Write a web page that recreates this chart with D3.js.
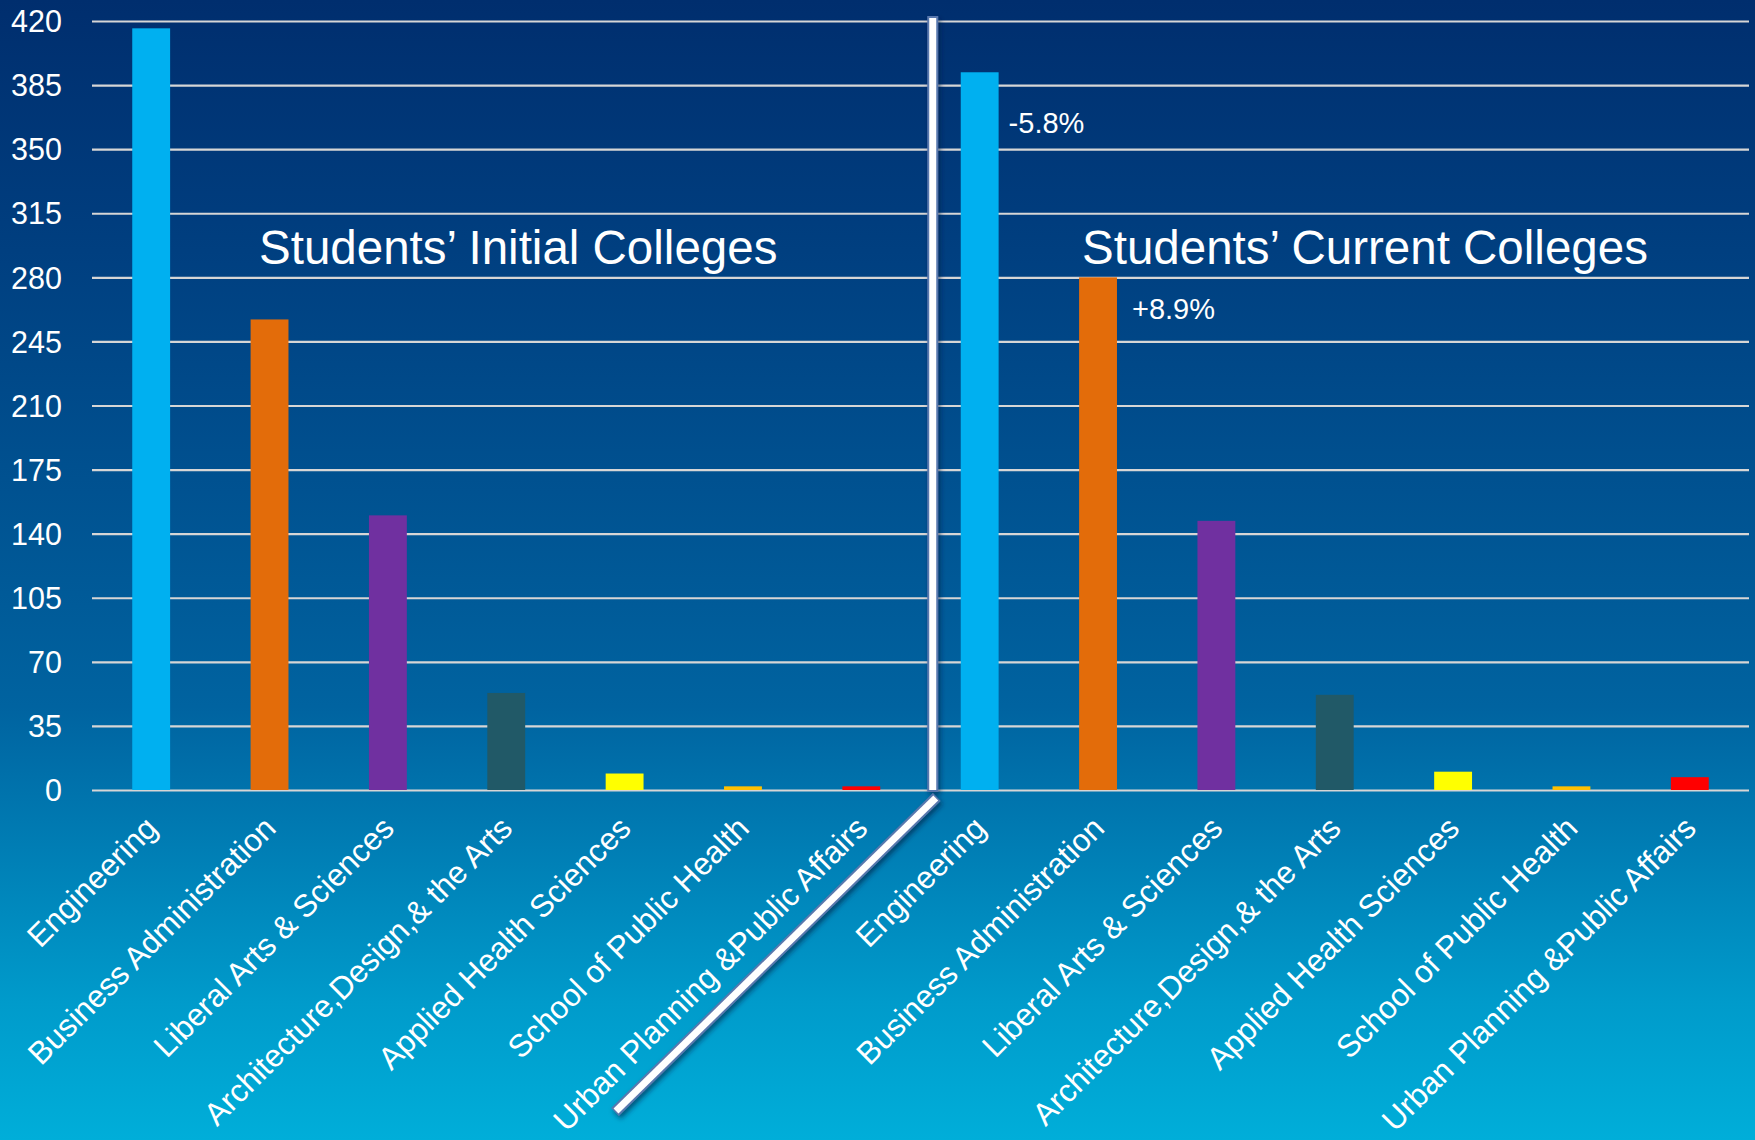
<!DOCTYPE html>
<html>
<head>
<meta charset="utf-8">
<script src="https://cdn.jsdelivr.net/npm/d3@7"></script>
<style>
  html, body { margin: 0; padding: 0; background: #003070; }
  svg { display: block; }
  text { font-family: "Liberation Sans", Arial, sans-serif; fill: #ffffff; }
</style>
</head>
<body>
<svg id="chart" width="1755" height="1140"></svg>
<script>
// ---- data ----
const colleges = ["Engineering", "Business Administration", "Liberal Arts & Sciences",
  "Architecture,Design,& the Arts", "Applied Health Sciences", "School of Public Health",
  "Urban Planning &Public Affairs"];
const initialCounts = [416, 257, 150, 53, 9, 2, 2];
const currentCounts = [392, 280, 147, 52, 10, 2, 7];
const collegeColors = ["#00B0F0", "#E36C0A", "#7030A0", "#215967", "#FFFF00", "#FFC000", "#FF0000"];
const yTicks = [0, 35, 70, 105, 140, 175, 210, 245, 280, 315, 350, 385, 420];
const panelTitles = ["Students\u2019 Initial Colleges", "Students\u2019 Current Colleges"];
const changeTexts = ["-5.8%", "+8.9%"];
const changeColleges = [0, 1]; // index into current-college bars

// ---- layout ----
const W = 1755, H = 1140;
const mLeft = 92, mRight = 1749, mTop = 21, mBottom = 790;
const changeOffsets = [{ dx: 10, dy: 61 }, { dx: 15, dy: 42 }];
const titlePos = [{ x: 259, y: 264 }, { x: 1082, y: 264 }];

const svg = d3.select("#chart");
const defs = svg.append("defs");
const grad = defs.append("linearGradient").attr("id", "bg").attr("x1", 0).attr("y1", 0).attr("x2", 0).attr("y2", 1);
[[0, "#002e6e"], [0.22, "#003f80"], [0.62, "#0063a0"], [0.88, "#009bcb"], [1, "#00aed9"]]
  .forEach(([o, c]) => grad.append("stop").attr("offset", o).attr("stop-color", c));
const shadow = defs.append("filter").attr("id", "shadow").attr("x", "-50%").attr("y", "-10%").attr("width", "200%").attr("height", "120%");
shadow.append("feDropShadow").attr("dx", 2).attr("dy", 3).attr("stdDeviation", 2.5).attr("flood-color", "#001a40").attr("flood-opacity", 0.6);

svg.append("rect").attr("width", W).attr("height", H).attr("fill", "url(#bg)");

// build records
const records = [];
[initialCounts, currentCounts].forEach((arr, g) => {
  arr.forEach((v, i) => records.push({ key: g + "-" + i, group: g, college: i, value: v }));
});

const x = d3.scaleBand().domain(records.map(d => d.key)).range([mLeft, mRight])
  .paddingInner(0.68).paddingOuter(0.34);
const y = d3.scaleLinear().domain([0, 420]).range([mBottom, mTop]);

// gridlines + y labels
const yAxis = d3.axisLeft(y).tickValues(yTicks).tickSize(-(mRight - mLeft)).tickPadding(30).tickFormat(d3.format("d"));
const gy = svg.append("g").attr("transform", `translate(${mLeft},0)`).call(yAxis);
gy.select(".domain").remove();
gy.selectAll(".tick line").attr("stroke", "#d6d6d6").attr("stroke-width", 2.2);
gy.selectAll(".tick text").attr("font-size", 30.5).attr("fill", "#ffffff").attr("x", -30).attr("dy", "0.35em")
  .style("font-family", "'Liberation Sans', Arial, sans-serif");

// bars
svg.append("g").selectAll("rect").data(records).join("rect")
  .attr("x", d => x(d.key))
  .attr("width", x.bandwidth())
  .attr("y", d => y(d.value))
  .attr("height", d => y(0) - y(d.value))
  .attr("fill", d => collegeColors[d.college]);

// x labels
const xAxis = d3.axisBottom(x).tickSize(0).tickFormat(k => colleges[+k.split("-")[1]]);
const gx = svg.append("g").attr("transform", `translate(0,${mBottom})`).call(xAxis);
gx.select(".domain").remove();
gx.selectAll(".tick text")
  .attr("font-size", 31.5)
  .attr("fill", "#ffffff")
  .attr("text-anchor", "end")
  .attr("y", 0).attr("dy", 0)
  .attr("transform", "translate(8,40) rotate(-45)")
  .style("font-family", "'Liberation Sans', Arial, sans-serif");

// panel titles
panelTitles.forEach((t, i) => {
  svg.append("text").attr("x", titlePos[i].x).attr("y", titlePos[i].y)
    .attr("font-size", 47.5).text(t);
});

// change labels
changeTexts.forEach((t, i) => {
  const k = "1-" + changeColleges[i];
  const v = currentCounts[changeColleges[i]];
  svg.append("text").attr("x", x(k) + x.bandwidth() + changeOffsets[i].dx).attr("y", y(v) + changeOffsets[i].dy)
    .attr("font-size", 29).text(t);
});

// divider
const div = svg.append("g").attr("filter", "url(#shadow)");
const dvx = x("1-0") - 28;
div.append("line").attr("x1", dvx).attr("x2", dvx).attr("y1", 16).attr("y2", mBottom + 2)
  .attr("stroke", "#5878ae").attr("stroke-width", 11);
div.append("line").attr("x1", dvx).attr("x2", dvx).attr("y1", 18).attr("y2", mBottom)
  .attr("stroke", "#ffffff").attr("stroke-width", 7);
div.append("line").attr("x1", dvx + 4).attr("y1", mBottom + 7).attr("x2", 615).attr("y2", 1112)
  .attr("stroke", "#5878ae").attr("stroke-width", 11);
div.append("line").attr("x1", dvx + 3).attr("y1", mBottom + 8).attr("x2", 616).attr("y2", 1111)
  .attr("stroke", "#ffffff").attr("stroke-width", 7);
</script>
</body>
</html>
